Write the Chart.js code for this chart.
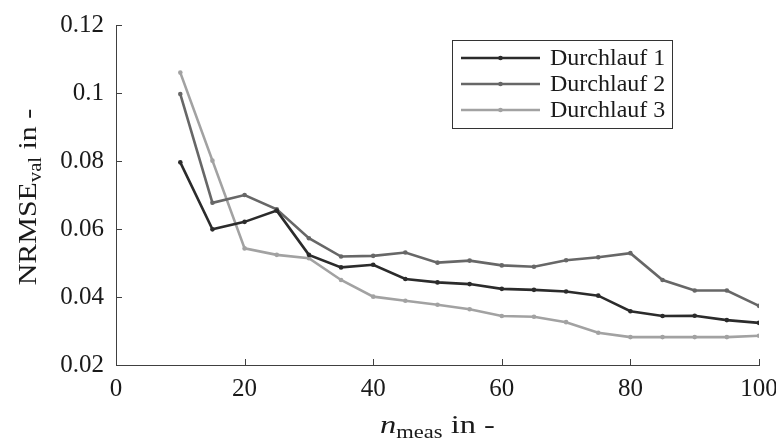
<!DOCTYPE html>
<html>
<head>
<meta charset="utf-8">
<script src="https://cdn.jsdelivr.net/npm/chart.js@4.4.0/dist/chart.umd.min.js"></script>
<style>
  html, body { margin: 0; padding: 0; background: #fff; }
</style>
</head>
<body>
<canvas id="chart" width="776" height="438"></canvas>
<script>
// values
const nMeas = [10, 15, 20, 25, 30, 35, 40, 45, 50, 55, 60, 65, 70, 75, 80, 85, 90, 95, 100];
const run1 = [0.0796, 0.0599, 0.0621, 0.0654, 0.0524, 0.0487, 0.0495, 0.0453, 0.0443, 0.0438,
              0.0424, 0.0421, 0.0416, 0.0404, 0.0358, 0.0344, 0.0345, 0.0332, 0.0324];
const run2 = [0.0997, 0.0677, 0.0700, 0.0658, 0.0573, 0.0519, 0.0521, 0.0531, 0.0501, 0.0507,
              0.0493, 0.0489, 0.0508, 0.0517, 0.0529, 0.0450, 0.0419, 0.0419, 0.0374];
const run3 = [0.1060, 0.0801, 0.0543, 0.0524, 0.0514, 0.0450, 0.0401, 0.0389, 0.0377, 0.0364,
              0.0344, 0.0342, 0.0326, 0.0295, 0.0282, 0.0282, 0.0282, 0.0282, 0.0286];
const runNames = ['Durchlauf 1', 'Durchlauf 2', 'Durchlauf 3'];
const runColors = ['#2b2b2b', '#676767', '#a2a2a2'];

const FONT = "'Liberation Serif', 'Times New Roman', serif";
const txt = '#1a1a1a';
const axisColor = '#404040';

function toPoints(ys) {
  return ys.map((y, i) => ({ x: nMeas[i], y: y }));
}

const datasets = [run1, run2, run3].map((ys, i) => ({
  label: runNames[i],
  data: toPoints(ys),
  borderColor: runColors[i],
  backgroundColor: runColors[i],
  borderWidth: 2.6,
  pointRadius: 2.3,
  pointBorderWidth: 0,
  pointBackgroundColor: runColors[i],
  tension: 0
}));

// row of text pieces (normal / italic / subscript) centred on 0,0,
// stretched a bit along the line since the original font runs wider
function drawParts(ctx, parts, sx) {
  let total = 0;
  parts.forEach(p => { ctx.font = p.font; total += ctx.measureText(p.t).width; });
  ctx.save();
  ctx.scale(sx, 1);
  let x = -total / 2;
  parts.forEach(p => {
    ctx.font = p.font;
    ctx.fillText(p.t, x, p.dy || 0);
    x += ctx.measureText(p.t).width;
  });
  ctx.restore();
}

const extras = {
  id: 'extras',
  afterDraw(chart) {
    const ctx = chart.ctx;
    const xs = chart.scales.x, ys = chart.scales.y;
    const area = chart.chartArea;
    ctx.save();

    // inward tick marks
    ctx.strokeStyle = axisColor;
    ctx.lineWidth = 1;
    ctx.beginPath();
    xs.ticks.forEach(t => {
      const px = Math.round(xs.getPixelForValue(t.value)) + 0.5;
      ctx.moveTo(px, area.bottom);
      ctx.lineTo(px, area.bottom - 6);
    });
    ys.ticks.forEach(t => {
      const py = Math.round(ys.getPixelForValue(t.value)) + 0.5;
      ctx.moveTo(area.left, py);
      ctx.lineTo(area.left + 6, py);
    });
    ctx.stroke();

    // axis titles
    ctx.fillStyle = txt;
    ctx.textBaseline = 'alphabetic';
    ctx.textAlign = 'left';
    ctx.save();
    ctx.translate((area.left + area.right) / 2, 433);
    drawParts(ctx, [
      { t: 'n', font: 'italic 26px ' + FONT },
      { t: 'meas', font: '18px ' + FONT, dy: 5 },
      { t: ' in -', font: '26px ' + FONT }
    ], 1.25);
    ctx.restore();

    ctx.save();
    ctx.translate(36, 197);
    ctx.rotate(-Math.PI / 2);
    drawParts(ctx, [
      { t: 'NRMSE', font: '26px ' + FONT },
      { t: 'val', font: '18px ' + FONT, dy: 5 },
      { t: ' in -', font: '26px ' + FONT }
    ], 1.15);
    ctx.restore();

    // legend box
    const bx = 452.5, by = 40.5, bw = 220, bh = 88;
    ctx.fillStyle = '#fff';
    ctx.fillRect(bx, by, bw, bh);
    ctx.strokeStyle = '#333';
    ctx.lineWidth = 1;
    ctx.strokeRect(bx, by, bw, bh);
    chart.data.datasets.forEach((ds, i) => {
      const rowY = 58 + i * 26;
      ctx.strokeStyle = ds.borderColor;
      ctx.lineWidth = 2.6;
      ctx.beginPath();
      ctx.moveTo(461, rowY);
      ctx.lineTo(540, rowY);
      ctx.stroke();
      ctx.fillStyle = ds.borderColor;
      ctx.beginPath();
      ctx.arc(500.5, rowY, 2.3, 0, Math.PI * 2);
      ctx.fill();
      ctx.fillStyle = txt;
      ctx.font = '24px ' + FONT;
      ctx.textBaseline = 'middle';
      ctx.fillText(ds.label, 550, rowY + 1);
    });
    ctx.restore();
  }
};

new Chart(document.getElementById('chart'), {
  type: 'line',
  data: { datasets: datasets },
  plugins: [extras],
  options: {
    responsive: false,
    animation: false,
    layout: { padding: { top: 25, right: 17, left: 0, bottom: 0 } },
    plugins: {
      legend: { display: false },
      tooltip: { enabled: false }
    },
    scales: {
      x: {
        type: 'linear',
        min: 0,
        max: 100,
        grid: { display: false, drawTicks: false },
        border: { display: true, color: axisColor, width: 1 },
        ticks: {
          stepSize: 20,
          padding: 9,
          color: txt,
          maxRotation: 0,
          font: { family: FONT, size: 25 }
        },
        afterFit(s) {
          s.height = 73;
          s.paddingLeft = 0;
          s.paddingRight = 0;
        }
      },
      y: {
        min: 0.02,
        max: 0.12,
        grid: { display: false, drawTicks: false },
        border: { display: true, color: axisColor, width: 1 },
        ticks: {
          stepSize: 0.02,
          padding: 12,
          color: txt,
          font: { family: FONT, size: 25 },
          callback: v => String(+v.toFixed(2))
        },
        afterFit(s) {
          s.width = 116;
          s.paddingTop = 0;
          s.paddingBottom = 0;
        }
      }
    }
  }
});
</script>
</body>
</html>
